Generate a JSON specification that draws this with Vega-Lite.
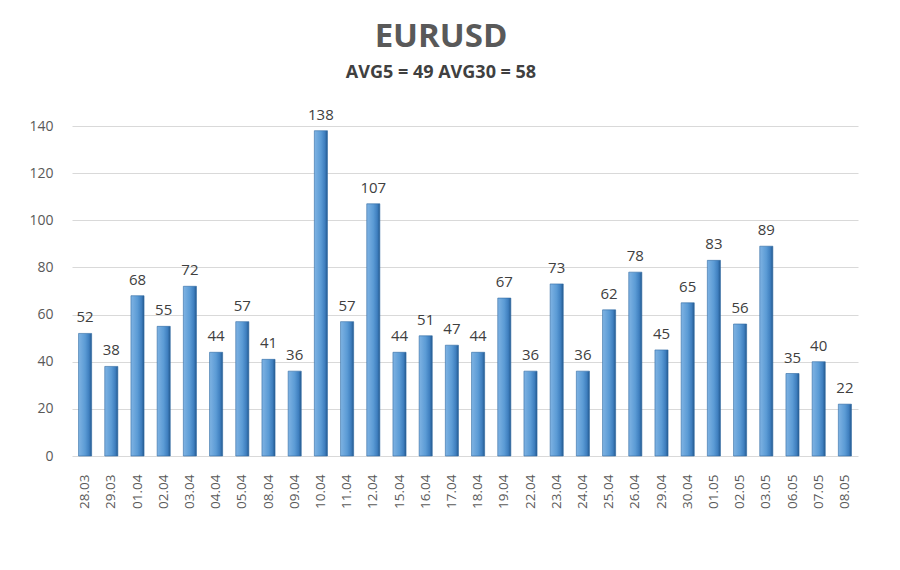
{
  "$schema": "https://vega.github.io/schema/vega-lite/v6.json",
  "autosize": "none",
  "width": 786,
  "height": 330,
  "padding": {"left": 72, "top": 126, "right": 42, "bottom": 114},
  "background": "white",
  "title": {
    "text": "EURUSD",
    "subtitle": "AVG5 = 49 AVG30 = 58",
    "anchor": "middle",
    "dx": -24,
    "offset": 26,
    "font": "Open Sans",
    "fontSize": 33,
    "fontWeight": "bold",
    "color": "#595959",
    "subtitleFont": "Open Sans",
    "subtitleFontSize": 18,
    "subtitleFontWeight": "bold",
    "subtitleColor": "#404040",
    "subtitlePadding": 10
  },
  "data": {
    "values": [
      {"date": "28.03", "value": 52},
      {"date": "29.03", "value": 38},
      {"date": "01.04", "value": 68},
      {"date": "02.04", "value": 55},
      {"date": "03.04", "value": 72},
      {"date": "04.04", "value": 44},
      {"date": "05.04", "value": 57},
      {"date": "08.04", "value": 41},
      {"date": "09.04", "value": 36},
      {"date": "10.04", "value": 138},
      {"date": "11.04", "value": 57},
      {"date": "12.04", "value": 107},
      {"date": "15.04", "value": 44},
      {"date": "16.04", "value": 51},
      {"date": "17.04", "value": 47},
      {"date": "18.04", "value": 44},
      {"date": "19.04", "value": 67},
      {"date": "22.04", "value": 36},
      {"date": "23.04", "value": 73},
      {"date": "24.04", "value": 36},
      {"date": "25.04", "value": 62},
      {"date": "26.04", "value": 78},
      {"date": "29.04", "value": 45},
      {"date": "30.04", "value": 65},
      {"date": "01.05", "value": 83},
      {"date": "02.05", "value": 56},
      {"date": "03.05", "value": 89},
      {"date": "06.05", "value": 35},
      {"date": "07.05", "value": 40},
      {"date": "08.05", "value": 22}
    ]
  },
  "encoding": {
    "x": {
      "field": "date",
      "type": "nominal",
      "sort": null,
      "scale": {"paddingInner": 0.5, "paddingOuter": 0.25},
      "axis": {
        "title": null,
        "labelAngle": -90,
        "labelFont": "Open Sans",
        "labelFontSize": 13.5,
        "labelColor": "#595959",
        "labelPadding": 18,
        "ticks": false,
        "domain": false,
        "grid": false
      }
    },
    "y": {
      "field": "value",
      "type": "quantitative",
      "scale": {"domain": [0, 140]},
      "axis": {
        "title": null,
        "values": [0, 20, 40, 60, 80, 100, 120, 140],
        "labelFont": "Open Sans",
        "labelFontSize": 14,
        "labelColor": "#595959",
        "labelPadding": 19,
        "ticks": false,
        "domain": false,
        "grid": true,
        "gridColor": "#d9d9d9",
        "gridWidth": 1
      }
    }
  },
  "layer": [
    {
      "mark": {
        "type": "bar",
        "color": {
          "gradient": "linear",
          "x1": 0, "x2": 1, "y1": 0, "y2": 0,
          "stops": [
            {"offset": 0, "color": "#7fb3e3"},
            {"offset": 0.5, "color": "#5b9bd5"},
            {"offset": 0.8, "color": "#3f7fbf"},
            {"offset": 1, "color": "#245a8f"}
          ]
        },
        "stroke": "#2f6aa3",
        "strokeWidth": 0.6
      }
    },
    {
      "mark": {
        "type": "text",
        "dy": -16,
        "font": "Open Sans",
        "fontSize": 15,
        "color": "#404040"
      },
      "encoding": {"text": {"field": "value", "type": "quantitative"}}
    }
  ],
  "config": {"view": {"stroke": null}}
}
